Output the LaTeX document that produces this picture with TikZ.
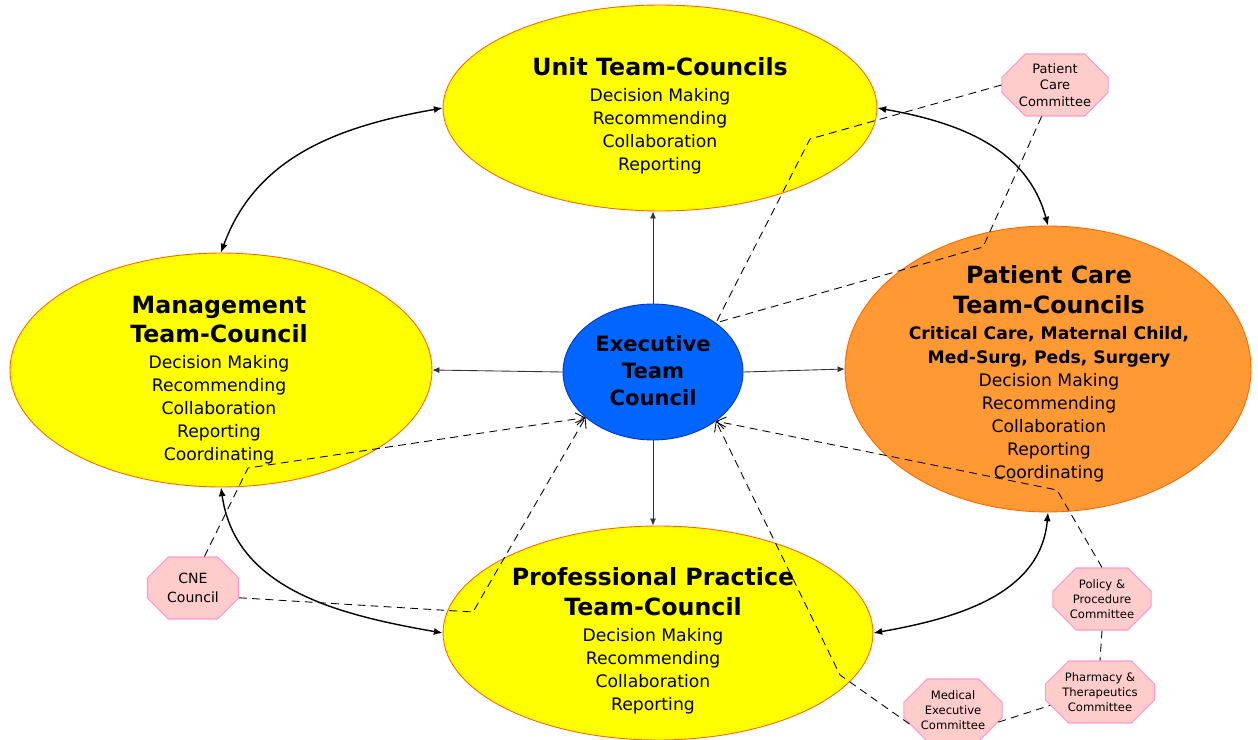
\documentclass[tikz,border=0pt]{standalone}
\usepackage{fontspec}
\setmainfont{DejaVu Sans}
\usetikzlibrary{shapes.geometric,shapes.misc,arrows.meta}

\definecolor{councilyellow}{HTML}{FFFF00}
\definecolor{councilorange}{HTML}{FF9933}
\definecolor{rimorange}{HTML}{FF6600}
\definecolor{execblue}{HTML}{0066FF}
\definecolor{rimblue}{HTML}{0033CC}
\definecolor{cmtpink}{HTML}{FFCCCC}
\definecolor{rimpink}{HTML}{FF99CC}

\newcommand{\headfont}{\fontsize{13.5}{17}\selectfont\bfseries}
\newcommand{\bodyfont}{\fontsize{9.8}{13.1}\selectfont}
\newcommand{\critfont}{\fontsize{9.8}{13.6}\selectfont\bfseries}

\tikzset{
  council/.style={ellipse, draw=rimorange, line width=0.5pt, fill=councilyellow, inner sep=0pt},
  blurb/.style={align=center, font=\bodyfont, inner sep=0pt},
  committee/.style={chamfered rectangle, chamfered rectangle xsep=0.34cm,
    draw=rimpink, fill=cmtpink, line width=0.6pt, minimum width=1.82cm,
    minimum height=1.24cm, inner sep=0pt, align=center,
    font=\fontsize{6.6}{8.6}\selectfont},
  feed/.style={draw=black!80, line width=0.5pt, -{Latex[length=4pt,width=3.5pt]}},
  ring/.style={draw=black, line width=0.8pt,
    {Latex[length=5pt,width=4pt]}-{Latex[length=5pt,width=4pt]}},
  link/.style={draw=black, line width=0.5pt, dash pattern=on 4.5pt off 3pt},
  linkarrow/.style={link, -{Straight Barb[length=5pt,width=7pt]}},
}

\begin{document}
\begin{tikzpicture}[x=0.02cm,y=0.02cm]
  \useasboundingbox (0,0) rectangle (1258,-740);

  % councils
  \node[council, minimum width=8.68cm, minimum height=4.12cm] (unit) at (660,-108) {};
  \node[council, minimum width=8.44cm, minimum height=4.68cm] (mgmt) at (221,-370) {};
  \node[council, fill=councilorange, minimum width=8.12cm, minimum height=5.72cm] (care) at (1048,-369) {};
  \node[council, minimum width=8.6cm, minimum height=4.28cm] (prof) at (658,-633) {};
  \node[council, draw=rimblue, fill=execblue, minimum width=3.6cm, minimum height=2.72cm] (exec) at (653,-372) {};

  \node[blurb] (unittxt) at (660,-116) {{\headfont Unit Team-Councils}\\[1.5pt]
    Decision Making\\Recommending\\Collaboration\\Reporting};
  \node[blurb] (mgmttxt) at (219,-380) {{\headfont Management}\\[2.5pt]{\headfont Team-Council}\\[1.5pt]
    Decision Making\\Recommending\\Collaboration\\Reporting\\Coordinating};
  \node[blurb] (caretxt) at (1049,-374) {{\headfont Patient Care}\\[4pt]{\headfont Team-Councils}\\[1.5pt]
    {\critfont Critical Care, Maternal Child,}\\[0.8pt]{\critfont Med-Surg, Peds, Surgery}\\
    Decision Making\\Recommending\\Collaboration\\Reporting\\Coordinating};
  \node[blurb] (proftxt) at (653,-641) {{\headfont Professional Practice}\\[3.5pt]{\headfont Team-Council}\\[2pt]
    Decision Making\\Recommending\\Collaboration\\Reporting};
  \node[blurb, font=\fontsize{12}{15.4}\selectfont\bfseries] (exectxt) at (653,-371) {Executive\\Team\\Council};

  % straight feeds from the executive council
  \draw[feed] (exec.north) -- (exec.north |- unit.south);
  \draw[feed] (exec.south) -- (exec.south |- prof.north);
  \draw[feed] (exec.west) -- (mgmt.east);
  \draw[feed] (exec.east) -- (care.west);

  % outer ring
  \draw[ring] (unit.west) to[out=190,in=70] (mgmt.north);
  \draw[ring] (unit.east) to[out=-10,in=105] (care.north);
  \draw[ring] (mgmt.south) to[out=-82,in=170] (prof.west);
  \draw[ring] (care.south) to[out=-95,in=10] (prof.east);

  % committees
  \node[committee, minimum width=2.04cm, font=\fontsize{7.4}{9.4}\selectfont] (pcc) at (1055,-85) {Patient\\Care\\Committee};
  \node[committee, font=\fontsize{8}{10.4}\selectfont] (cne) at (193,-588) {CNE\\Council};
  \node[committee] (pol) at (1102,-599) {Policy \&\\Procedure\\Committee};
  \node[committee, minimum width=2.06cm] (pha) at (1100,-692) {Pharmacy \&\\Therapeutics\\Committee};
  \node[committee] (mec) at (953,-710) {Medical\\Executive\\Committee};

  % dashed reporting lines
  \draw[link] (pcc.west) -- (810,-139) -- (exec.38);
  \draw[link] (pcc.247) -- (983,-247) -- (exec.38);
  \draw[linkarrow] (cne.70) -- (248,-468) -- (exec.214);
  \draw[linkarrow] (cne.-12) -- (473,-612) -- (exec.214);
  \draw[linkarrow] (pol.north) -- (1057,-490) -- (exec.-38);
  \draw[linkarrow] (mec.198) -- (840,-675) -- (exec.-38);
  \draw[link] (mec.-15) -- (pha.195);
  \draw[link] (pol.south) -- (pha.north);
\end{tikzpicture}
\end{document}
